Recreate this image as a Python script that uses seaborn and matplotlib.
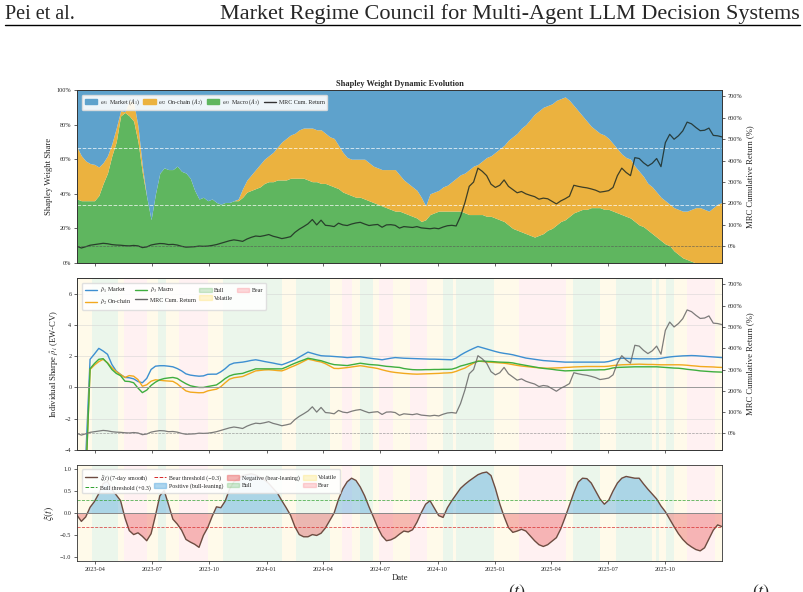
import numpy as np
import pandas as pd
import matplotlib
matplotlib.use('Agg')
import matplotlib.pyplot as plt
import matplotlib.dates as mdates
from matplotlib.patches import Patch
from matplotlib.lines import Line2D
from matplotlib.ticker import PercentFormatter, FuncFormatter
import seaborn as sns

# weekly grid of the plotted series
dates = pd.date_range('2023-03-03', '2025-12-31', periods=149)

# Shapley weight shares (market share is the remainder)
w_macro = [.37, .36, .36, .36, .36, .39, .46, .52, .62, .70,
           .85, .87, .85, .82, .70, .52, .38, .25, .40, .52,
           .55, .54, .54, .56, .53, .52, .49, .42, .37, .38,
           .36, .37, .35, .34, .35, .35, .36, .36, .38, .41,
           .42, .43, .44, .46, .47, .47, .48, .48, .48, .49,
           .49, .49, .49, .48, .47, .47, .46, .46, .45, .44,
           .43, .41, .40, .39, .38, .38, .37, .36, .35, .34,
           .33, .32, .31, .30, .30, .29, .28, .27, .26, .24,
           .25, .28, .29, .30, .30, .30, .30, .30, .30, .29,
           .28, .28, .28, .28, .27, .27, .26, .25, .24, .22,
           .20, .19, .18, .17, .16, .15, .16, .17, .19, .20,
           .22, .24, .25, .27, .29, .30, .31, .31, .32, .32,
           .32, .31, .31, .30, .29, .28, .27, .26, .24, .22,
           .21, .19, .17, .15, .13, .11, .10, .07, .05, .03,
           .02, .01, 0, 0, 0, 0, 0, 0, 0]
w_onchain = [.30, .26, .23, .215, .21, .165, .12, .10, .07, .08,
             .03, .005, .09, .11, .09, .04, 0, 0, 0, 0,
             0, 0, 0, 0, 0, 0, 0, 0, 0, 0,
             0, 0, 0, 0, 0, 0, 0, .01, .05, .07,
             .09, .11, .13, .14, .15, .17, .19, .22, .24, .25,
             .26, .28, .29, .30, .31, .30, .31, .29, .28, .28,
             .25, .23, .21, .21, .22, .22, .23, .22, .21, .21,
             .21, .22, .23, .24, .21, .19, .18, .17, .16, .14,
             .08, .12, .12, .12, .14, .15, .17, .19, .21, .23,
             .26, .28, .29, .31, .34, .35, .38, .41, .44, .49,
             .53, .56, .60, .63, .67, .71, .72, .73, .72, .72,
             .72, .71, .71, .67, .62, .58, .54, .51, .47, .45,
             .43, .43, .41, .39, .37, .35, .34, .34, .32, .31,
             .29, .27, .27, .26, .25, .25, .24, .25, .26, .27,
             .28, .30, .32, .32, .31, .30, .32, .34, .35]

# MRC cumulative return (%)
mrc_return = [0, -8, -2, 5, 8, 11, 14, 12, 8, 6,
              5, 3, 2, 4, 2, -6, -3, 6, 10, 13,
              12, 8, 9, 6, 0, -4, -3, -2, 1, 0,
              1, 4, 8, 14, 20, 26, 30, 27, 23, 34,
              42, 48, 46, 50, 55, 47, 42, 36, 40, 45,
              65, 80, 92, 105, 125, 100, 122, 98, 96, 92,
              108, 100, 97, 104, 109, 112, 104, 97, 100, 102,
              89, 100, 101, 98, 85, 92, 90, 88, 92, 86,
              84, 82, 85, 82, 90, 96, 98, 95, 140, 203,
              280, 300, 365, 350, 330, 290, 275, 285, 310, 280,
              265, 250, 256, 245, 238, 232, 220, 225, 222, 210,
              198, 212, 222, 234, 285, 280, 276, 273, 268, 262,
              253, 256, 260, 275, 330, 365, 345, 330, 414, 410,
              390, 375, 388, 410, 372, 484, 523, 500, 516, 539,
              580, 572, 555, 540, 542, 552, 518, 516, 511]

# individual Sharpe (EW-CV)
sharpe_market = [-12, -9, -4.5, 1.8, 2.14, 2.5, 2.33, 2.12, 1.47, 1.05,
                 .83, .64, .62, .55, .38, .30, .58, 1.15, 1.36, 1.39,
                 1.39, 1.36, 1.32, 1.21, 1.06, .87, .79, .75, .72, .74,
                 .84, .85, .85, 1.0, 1.2, 1.45, 1.56, 1.59, 1.62, 1.67,
                 1.73, 1.77, 1.72, 1.66, 1.61, 1.56, 1.50, 1.45, 1.55, 1.66,
                 1.77, 1.94, 2.10, 2.26, 2.18, 2.10, 2.03, 2.01, 2.0, 1.98,
                 1.96, 1.94, 1.91, 1.93, 1.95, 1.96, 1.92, 1.88, 1.84, 1.81,
                 1.77, 1.82, 1.87, 1.91, 1.89, 1.87, 1.86, 1.85, 1.84, 1.83,
                 1.82, 1.81, 1.81, 1.80, 1.79, 1.78, 1.77, 1.88, 2.07, 2.23,
                 2.37, 2.50, 2.62, 2.54, 2.46, 2.38, 2.30, 2.23, 2.18, 2.14,
                 2.09, 2.02, 1.95, 1.88, 1.84, 1.80, 1.76, 1.72, 1.70, 1.68,
                 1.66, 1.64, 1.62, 1.62, 1.62, 1.62, 1.62, 1.62, 1.62, 1.62,
                 1.62, 1.62, 1.66, 1.74, 1.83, 1.87, 1.86, 1.85, 1.84, 1.83,
                 1.83, 1.83, 1.83, 1.83, 1.86, 1.91, 1.95, 1.98, 2.0, 2.02,
                 2.03, 2.04, 2.03, 2.01, 1.99, 1.97, 1.95, 1.93, 1.91]
sharpe_onchain = [-12, -10, -6, 1.15, 1.43, 1.65, 1.80, 1.58, 1.26, 1.02,
                  .82, .64, .76, .72, .50, .08, .17, .40, .49, .46,
                  .43, .41, .39, .23, 0, -.22, -.30, -.32, -.34, -.33,
                  -.22, -.16, -.11, .05, .30, .53, .62, .66, .70, .82,
                  .94, 1.06, 1.09, 1.12, 1.13, 1.11, 1.08, 1.06, 1.16, 1.29,
                  1.40, 1.53, 1.67, 1.81, 1.75, 1.68, 1.63, 1.52, 1.37, 1.22,
                  1.21, 1.24, 1.27, 1.31, 1.35, 1.39, 1.35, 1.30, 1.26, 1.21,
                  1.13, 1.06, 1.0, .96, .93, .90, .88, .86, .85, .86,
                  .87, .88, .89, .90, .92, .93, .95, 1.03, 1.14, 1.24,
                  1.40, 1.55, 1.69, 1.66, 1.63, 1.61, 1.59, 1.57, 1.55, 1.51,
                  1.46, 1.41, 1.37, 1.34, 1.31, 1.28, 1.26, 1.24, 1.23, 1.24,
                  1.25, 1.26, 1.28, 1.29, 1.31, 1.32, 1.33, 1.34, 1.34, 1.34,
                  1.34, 1.34, 1.36, 1.40, 1.43, 1.45, 1.46, 1.47, 1.48, 1.49,
                  1.48, 1.47, 1.47, 1.46, 1.45, 1.45, 1.45, 1.45, 1.45, 1.44,
                  1.42, 1.39, 1.37, 1.34, 1.33, 1.32, 1.31, 1.29, 1.28]
sharpe_macro = [-12, -10, -6, 1.2, 1.53, 1.80, 1.84, 1.55, 1.15, .90,
                .75, .40, .38, .30, -.04, -.33, -.17, .13, .34, .49,
                .57, .61, .64, .58, .40, .24, .11, .05, 0, 0,
                .06, .11, .16, .35, .57, .74, .83, .87, .90, 1.0,
                1.09, 1.19, 1.19, 1.19, 1.19, 1.19, 1.19, 1.19, 1.30, 1.43,
                1.55, 1.66, 1.76, 1.87, 1.82, 1.76, 1.71, 1.62, 1.53, 1.46,
                1.44, 1.42, 1.40, 1.45, 1.50, 1.55, 1.51, 1.47, 1.45, 1.43,
                1.39, 1.35, 1.33, 1.30, 1.28, 1.21, 1.17, 1.14, 1.13, 1.13,
                1.14, 1.14, 1.15, 1.15, 1.16, 1.16, 1.17, 1.25, 1.37, 1.44,
                1.52, 1.60, 1.67, 1.69, 1.67, 1.66, 1.64, 1.62, 1.61, 1.60,
                1.57, 1.51, 1.46, 1.41, 1.36, 1.31, 1.26, 1.22, 1.19, 1.16,
                1.12, 1.09, 1.06, 1.07, 1.08, 1.09, 1.10, 1.11, 1.12, 1.12,
                1.13, 1.13, 1.18, 1.25, 1.28, 1.29, 1.30, 1.31, 1.32, 1.32,
                1.32, 1.32, 1.32, 1.32, 1.30, 1.28, 1.26, 1.24, 1.23, 1.20,
                1.16, 1.13, 1.10, 1.06, 1.04, 1.02, 1.00, .99, .98]

# regime index xi(t), 7-day smooth
xi_smooth = [-.04, -.18, -.08, .14, .27, .45, .68, .73, .54, .42,
             .29, -.10, -.39, -.48, -.44, -.52, -.62, -.46, -.05, .40,
             .52, .20, -.13, -.24, -.38, -.59, -.65, -.70, -.77, -.50,
             -.32, -.07, .15, .13, .28, .55, .72, .79, .86, .88,
             .90, .87, .82, .76, .68, .57, .46, .29, .13, -.04,
             -.30, -.48, -.53, -.53, -.48, -.50, -.45, -.33, -.16, .01,
             .32, .56, .72, .80, .75, .60, .40, .15, -.08, -.32,
             -.51, -.62, -.60, -.55, -.47, -.40, -.42, -.37, -.20, .02,
             .21, .29, .12, -.05, -.09, .13, .29, .43, .57, .66,
             .74, .81, .88, .92, .94, .86, .57, .22, -.07, -.32,
             -.43, -.40, -.36, -.40, -.51, -.62, -.71, -.75, -.71, -.63,
             -.55, -.35, -.09, .19, .47, .71, .80, .79, .69, .51,
             .33, .21, .30, .51, .69, .80, .84, .82, .80, .80,
             .67, .55, .44, .33, .17, .04, -.13, -.30, -.46, -.59,
             -.69, -.76, -.82, -.85, -.78, -.58, -.38, -.26, -.30]

# market regimes (start date of each segment)
regime_starts = ['2023-03-03', '2023-03-27', '2023-05-08', '2023-05-17', '2023-06-23',
                 '2023-07-11', '2023-07-24', '2023-08-13', '2023-09-29', '2023-10-23',
                 '2024-01-26', '2024-02-17', '2024-04-12', '2024-05-01', '2024-05-17',
                 '2024-05-30', '2024-06-19', '2024-06-29', '2024-07-22', '2024-08-18',
                 '2024-09-14', '2024-10-10', '2024-10-26', '2024-10-31', '2024-12-30',
                 '2025-02-09', '2025-04-25', '2025-05-06', '2025-06-18', '2025-07-14',
                 '2025-09-10', '2025-09-16', '2025-09-21', '2025-10-02', '2025-10-15',
                 '2025-11-05', '2025-12-20']
regime_labels = ['Volatile', 'Bull', 'Volatile', 'Bear', 'Volatile',
                 'Bull', 'Volatile', 'Bear', 'Volatile', 'Bull',
                 'Volatile', 'Bull', 'Volatile', 'Bear', 'Volatile',
                 'Bull', 'Volatile', 'Bear', 'Volatile', 'Bear',
                 'Volatile', 'Bull', 'Volatile', 'Bull', 'Volatile',
                 'Bear', 'Volatile', 'Bull', 'Volatile', 'Bull',
                 'Volatile', 'Bull', 'Volatile', 'Bull', 'Volatile',
                 'Bear', 'Volatile']
regime_end = '2025-12-31'

sns.set_theme(style='ticks')
plt.rcParams['font.family'] = ['Liberation Serif', 'DejaVu Serif']
plt.rcParams['mathtext.fontset'] = 'stix'
plt.rcParams['axes.linewidth'] = 0.6
plt.rcParams['axes.edgecolor'] = '#333333'

c_market = '#5ea2cc'
c_onchain = '#ebb23f'
c_macro = '#5fb65f'
regime_colors = {'Bull': '#2ca02c', 'Bear': '#ff4455', 'Volatile': '#ffd21a'}
regime_alpha = {'Bull': 0.09, 'Bear': 0.075, 'Volatile': 0.09}

fs_tick = 4.5
fs_lab = 6.2
fs_leg = 4.3
leg_kw = dict(loc='upper left', ncol=4, fontsize=fs_leg, frameon=True, framealpha=0.9,
              handlelength=2.1, handleheight=0.8, columnspacing=0.55, handletextpad=0.45,
              borderpad=0.45, labelspacing=0.35, edgecolor='#dddddd', fancybox=True)

fig = plt.figure(figsize=(8.04, 5.92), dpi=100)

# page header
fig.text(0.006, 1 - 19 / 592, 'Pei et al.', fontsize=14.5, ha='left', va='baseline')
fig.text(0.995, 1 - 19 / 592, 'Market Regime Council for Multi-Agent LLM Decision Systems',
         fontsize=16, ha='right', va='baseline')
fig.add_artist(Line2D([0.006, 0.995], [1 - 25 / 592] * 2, color='black', lw=1.0,
                      transform=fig.transFigure))
fig.text(0.643, 1 - 583 / 592, r'$(t)$', fontsize=13, ha='center', va='top')
fig.text(0.947, 1 - 583 / 592, r'$(t)$', fontsize=13, ha='center', va='top')

left, width = 77 / 804, 645 / 804
ax1 = fig.add_axes([left, 1 - 263 / 592, width, 173 / 592])
ax2 = fig.add_axes([left, 1 - 450 / 592, width, 172 / 592], sharex=ax1)
ax3 = fig.add_axes([left, 1 - 561 / 592, width, 96 / 592], sharex=ax1)

x0, x1 = pd.Timestamp(dates[0]), pd.Timestamp(regime_end)
bounds = [pd.Timestamp(s) for s in regime_starts] + [x1]


def draw_regimes(ax):
    for i, lab in enumerate(regime_labels):
        ax.axvspan(bounds[i], bounds[i + 1], color=regime_colors[lab],
                   alpha=regime_alpha[lab], lw=0, zorder=0)


def style_ax(ax):
    ax.tick_params(labelsize=fs_tick, length=2.5, width=0.5, pad=1.5)
    for s in ax.spines.values():
        s.set_linewidth(0.6)


def pct_fmt(v, pos):
    return f'{v:.0f}%'


# ---- panel 1: stacked Shapley weights
w_m = np.array(w_macro)
w_o = np.array(w_onchain)
w_k = 1 - w_m - w_o
ax1.stackplot(dates, w_m, w_o, w_k, colors=[c_macro, c_onchain, c_market], lw=0)
ax1.axhline(1 / 3, color='white', ls='--', lw=0.7, alpha=0.7)
ax1.axhline(2 / 3, color='white', ls='--', lw=0.7, alpha=0.7)
ax1.set_ylim(0, 1)
ax1.set_xlim(x0, x1)
ax1.yaxis.set_major_formatter(PercentFormatter(1.0, decimals=0))
ax1.set_ylabel('Shapley Weight Share', fontsize=fs_lab, labelpad=3)
ax1.set_title('Shapley Weight Dynamic Evolution', fontsize=6.0, fontweight='bold', pad=3)
plt.setp(ax1.get_xticklabels(), visible=False)
style_ax(ax1)

ax1r = ax1.twinx()
sns.lineplot(x=dates, y=mrc_return, ax=ax1r, color='#1e2a22', lw=0.9, alpha=0.85)
ax1r.axhline(0, color='#555555', ls='--', lw=0.5, alpha=0.8)
ax1r.set_ylim(-78, 730)
ax1r.set_yticks(range(0, 701, 100))
ax1r.yaxis.set_major_formatter(FuncFormatter(pct_fmt))
ax1r.set_ylabel('MRC Cumulative Return (%)', fontsize=fs_lab, labelpad=3)
ax1r.set_xlabel('')
style_ax(ax1r)
h1 = [Patch(color=c_market), Patch(color=c_onchain), Patch(color=c_macro),
      Line2D([], [], color='#333333', lw=1.0)]
l1 = [r'$\omega_1$  Market ($A_1$)', r'$\omega_2$  On-chain ($A_2$)',
      r'$\omega_3$  Macro ($A_3$)', 'MRC Cum. Return']
ax1r.legend(h1, l1, bbox_to_anchor=(0.003, 0.99), **leg_kw)

# ---- panel 2: individual Sharpe
draw_regimes(ax2)
ax2.grid(axis='y', color='#cccccc', lw=0.5, alpha=0.6)
sns.lineplot(x=dates, y=sharpe_market, ax=ax2, color='#3d8fd1', lw=1.0)
sns.lineplot(x=dates, y=sharpe_onchain, ax=ax2, color='#f2a91e', lw=1.0)
sns.lineplot(x=dates, y=sharpe_macro, ax=ax2, color='#3fae3f', lw=1.0)
ax2.axhline(0, color='#999999', lw=0.7)
ax2.set_ylim(-4, 7)
ax2.set_yticks([-4, -2, 0, 2, 4, 6])
ax2.set_ylabel(r'Individual Sharpe $\hat{\rho}_i$ (EW-CV)', fontsize=fs_lab, labelpad=3)
ax2.set_xlabel('')
plt.setp(ax2.get_xticklabels(), visible=False)
style_ax(ax2)

ax2r = ax2.twinx()
sns.lineplot(x=dates, y=mrc_return, ax=ax2r, color='#666666', lw=0.9, alpha=0.85)
ax2r.axhline(0, color='#888888', ls='--', lw=0.5, alpha=0.8)
ax2r.set_ylim(-78, 730)
ax2r.set_yticks(range(0, 701, 100))
ax2r.yaxis.set_major_formatter(FuncFormatter(pct_fmt))
ax2r.set_ylabel('MRC Cumulative Return (%)', fontsize=fs_lab, labelpad=3)
ax2r.set_xlabel('')
style_ax(ax2r)
h2 = [Line2D([], [], color='#3d8fd1', lw=1.0), Line2D([], [], color='#f2a91e', lw=1.0),
      Line2D([], [], color='#3fae3f', lw=1.0), Line2D([], [], color='#666666', lw=1.0),
      Patch(color=regime_colors['Bull'], alpha=0.2), Patch(color=regime_colors['Volatile'], alpha=0.2),
      Patch(color=regime_colors['Bear'], alpha=0.2)]
l2 = [r'$\hat{\rho}_1$ Market', r'$\hat{\rho}_2$ On-chain', r'$\hat{\rho}_3$ Macro',
      'MRC Cum. Return', 'Bull', 'Volatile', 'Bear']
ax2r.legend(h2, l2, bbox_to_anchor=(0.003, 0.99), **leg_kw)

# ---- panel 3: xi(t)
draw_regimes(ax3)
xi = np.array(xi_smooth)
ax3.fill_between(dates, xi, 0, where=xi >= 0, interpolate=True, color='#5dade2', alpha=0.45, lw=0)
ax3.fill_between(dates, xi, 0, where=xi < 0, interpolate=True, color='#ec6b6b', alpha=0.45, lw=0)
sns.lineplot(x=dates, y=xi_smooth, ax=ax3, color='#6d4c41', lw=1.0)
ax3.axhline(0, color='#888888', lw=0.7)
ax3.axhline(0.3, color='#2ca02c', ls='--', lw=0.6, alpha=0.8)
ax3.axhline(-0.3, color='#d62728', ls='--', lw=0.6, alpha=0.8)
ax3.set_ylim(-1.08, 1.1)
ax3.set_yticks([-1.0, -0.5, 0.0, 0.5, 1.0])
ax3.set_ylabel(r'$\xi(t)$', fontsize=7, labelpad=3)
ax3.set_xlabel('Date', fontsize=fs_lab, labelpad=2)
ax3.xaxis.set_major_locator(mdates.MonthLocator(bymonth=[1, 4, 7, 10]))
ax3.xaxis.set_major_formatter(mdates.DateFormatter('%Y-%m'))
ax3.set_xlim(x0, x1)
style_ax(ax3)
h3 = [Line2D([], [], color='#6d4c41', lw=1.0), Line2D([], [], color='#2ca02c', ls='--', lw=0.7),
      Line2D([], [], color='#d62728', ls='--', lw=0.7), Patch(color='#5dade2', alpha=0.5),
      Patch(color='#ec6b6b', alpha=0.5), Patch(color=regime_colors['Bull'], alpha=0.2),
      Patch(color=regime_colors['Volatile'], alpha=0.2), Patch(color=regime_colors['Bear'], alpha=0.2)]
l3 = [r'$\xi(t)$ (7-day smooth)', 'Bull threshold (+0.3)', 'Bear threshold (\u22120.3)',
      'Positive (bull-leaning)', 'Negative (bear-leaning)', 'Bull', 'Volatile', 'Bear']
ax3.legend(h3, l3, bbox_to_anchor=(0.003, 0.985), **leg_kw)

fig.savefig('out.png', dpi=100)
